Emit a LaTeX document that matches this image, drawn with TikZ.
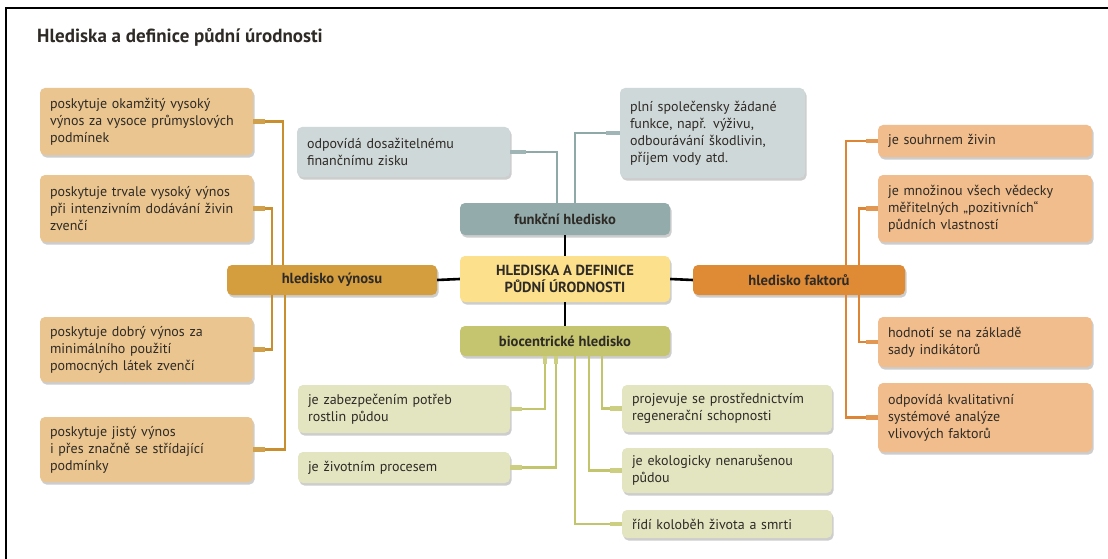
\documentclass[tikz,border=0pt]{standalone}
\usepackage{fontspec}
\setmainfont{PT Sans}
\usetikzlibrary{shadows,calc}
\definecolor{txt}{HTML}{2E2A26}
\definecolor{tanF}{HTML}{EAC58F}
\definecolor{hvF}{HTML}{D49D3E}
\definecolor{ctrF}{HTML}{FCE08C}
\definecolor{fhF}{HTML}{93ABAB}
\definecolor{grF}{HTML}{CFD8D8}
\definecolor{bhF}{HTML}{C4C56E}
\definecolor{bF}{HTML}{E3E4C0}
\definecolor{hfF}{HTML}{DF8A35}
\definecolor{oF}{HTML}{F1BD8C}
\definecolor{lC}{HTML}{C98F2E}
\definecolor{tC}{HTML}{8FA9A9}
\definecolor{bC}{HTML}{C3C56C}
\definecolor{rC}{HTML}{DD8535}
\begin{document}
\begin{tikzpicture}[x=1pt,y=-1pt,
  font=\fontsize{14}{17}\selectfont,
  sh/.style={drop shadow={shadow xshift=1.5pt,shadow yshift=-2.5pt,opacity=0.28,fill=black!70}},
  box/.style={sh,rounded corners=5pt,inner xsep=10pt,inner ysep=3pt,align=left,text=txt},
  tanbox/.style={box,fill=tanF,text width=193pt},
  grbox/.style={box,fill=grF},
  gbox/.style={box,fill=bF},
  obox/.style={box,fill=oF,text width=194pt},
  hub/.style={sh,rounded corners=5pt,minimum width=210pt,minimum height=30pt,inner sep=2pt,align=center,text=txt,font=\fontsize{14.6}{16.5}\selectfont\bfseries},
  lconn/.style={draw=lC,line width=2.2pt},
  lstub/.style={draw=lC!85!white,line width=4.5pt},
  tconn/.style={draw=tC,line width=2.2pt},
  tstub/.style={draw=tC!85!white,line width=4.5pt},
  bconn/.style={draw=bC,line width=2.2pt},
  bstub/.style={draw=bC!85!white,line width=4.5pt},
  rconn/.style={draw=rC,line width=2.2pt},
  rstub/.style={draw=rC!85!white,line width=4.5pt},
  kconn/.style={draw=black,line width=2.6pt}
]
\useasboundingbox (0,0) rectangle (1108,559);
\fill[white] (0,0) rectangle (1108,559);
\draw[line width=2pt] (6,559) -- (6,8) -- (1108,8);

\node[anchor=base west,font=\fontsize{19}{21}\selectfont\bfseries,text=txt,inner sep=0pt] (title) at (37,43) {Hlediska a definice půdní úrodnosti};

% hubs
\node[hub,fill=ctrF,minimum height=46pt] (ctr) at (565,279) {HLEDISKA A DEFINICE\\PŮDNÍ ÚRODNOSTI};
\node[hub,fill=hvF] (hv) at (332,280) {hledisko výnosu};
\node[hub,fill=fhF,minimum height=32pt] (fh) at (565,219) {funkční hledisko};
\node[hub,fill=bhF] (bh) at (565,341) {biocentrické hledisko};
\node[hub,fill=hfF,minimum width=212pt] (hf) at (799,280) {hledisko faktorů};

% left boxes
\node[tanbox,minimum height=67pt] (l1) at (146.5,121.5) {poskytuje okamžitý vysoký\\výnos za vysoce průmyslových\\podmínek};
\node[tanbox,minimum height=67pt] (l2) at (146.5,208.5) {poskytuje trvale vysoký výnos\\při intenzivním dodávání živin\\zvenčí};
\node[tanbox,minimum height=65pt] (l3) at (146.5,349.5) {poskytuje dobrý výnos za\\minimálního použití\\pomocných látek zvenčí};
\node[tanbox,minimum height=65pt] (l4) at (146.5,449.5) {poskytuje jistý výnos\\i přes značně se střídající\\podmínky};

% top gray boxes
\node[grbox,text width=193pt,minimum height=50pt] (g1) at (403.5,152) {odpovídá dosažitelnému\\finančnímu zisku};
\node[grbox,text width=165pt,minimum height=90pt] (g2) at (712.5,133) {plní společensky žádané\\funkce, např. výživu,\\odbourávání škodlivin,\\příjem vody atd.};

% bottom green boxes
\node[gbox,text width=192pt,minimum height=48pt] (b1) at (404,409) {je zabezpečením potřeb\\rostlin půdou};
\node[gbox,text width=192pt,minimum height=31pt] (b2) at (404,467.5) {je životním procesem};
\node[gbox,text width=190pt,minimum height=47pt] (b3) at (727,408.5) {projevuje se prostřednictvím\\regenerační schopnosti};
\node[gbox,text width=190pt,minimum height=45pt] (b4) at (727,470.5) {je ekologicky nenarušenou\\půdou};
\node[gbox,text width=190pt,minimum height=28pt] (b5) at (727,524) {řídí koloběh života a smrti};

% right orange boxes
\node[obox,minimum height=32pt] (o1) at (985,141) {je souhrnem živin};
\node[obox,minimum height=67pt] (o2) at (985,208.5) {je množinou všech vědecky\\měřitelných „pozitivních“\\půdních vlastností};
\node[obox,minimum height=50pt] (o3) at (985,342) {hodnotí se na základě\\sady indikátorů};
\node[obox,minimum height=69pt] (o4) at (985,417.5) {odpovídá kvalitativní\\systémové analýze\\vlivových faktorů};

% black connectors
\draw[kconn] (hv.east) -- (ctr.west);
\draw[kconn] (ctr.east) -- (hf.west);
\draw[kconn] (fh.south) -- (ctr.north);
\draw[kconn] (ctr.south) -- (bh.north);

% left connectors
\draw[lconn] (l1.east) -| ($(hv.north west)+(56,0)$);
\draw[lconn] (l2.east) -| ($(hv.north west)+(45,0)$);
\draw[lconn] (l3.east) -| ($(hv.south west)+(45,0)$);
\draw[lconn] (l4.east) -| ($(hv.south west)+(58,0)$);
\foreach \n in {l1,l2,l3,l4} \draw[lstub] (\n.east) -- ++(12,0);

% top connectors
\draw[tconn] (g1.east) -| ($(fh.north west)+(97,0)$);
\draw[tconn] (g2.west) -| ($(fh.north west)+(115,0)$);
\draw[tstub] (g1.east) -- ++(16,0);
\draw[tstub] (g2.west) -- ++(-14,0);

% bottom connectors
\draw[bconn] (b1.east) -| ($(bh.south west)+(85,0)$);
\draw[bconn] (b2.east) -| ($(bh.south west)+(96,0)$);
\draw[bconn] (b3.west) -| ($(bh.south west)+(142,0)$);
\draw[bconn] (b4.west) -| ($(bh.south west)+(129,0)$);
\draw[bconn] (b5.west) -| ($(bh.south west)+(115,0)$);
\foreach \n in {b1,b2} \draw[bstub] (\n.east) -- ++(12,0);
\foreach \n in {b3,b4,b5} \draw[bstub] (\n.west) -- ++(-12,0);
\draw[bstub] ($(bh.south west)+(85,0)$) -- ++(0,8);
\draw[bstub] ($(bh.south west)+(96,0)$) -- ++(0,8);

% right connectors
\draw[rconn] (o1.west) -| ($(hf.north west)+(153,0)$);
\draw[rconn] (o2.west) -| ($(hf.north west)+(166,0)$);
\draw[rconn] (o3.west) -| ($(hf.south west)+(166,0)$);
\draw[rconn] (o4.west) -| ($(hf.south west)+(153,0)$);
\foreach \n in {o1,o2,o3,o4} \draw[rstub] (\n.west) -- ++(-12,0);
\end{tikzpicture}
\end{document}
